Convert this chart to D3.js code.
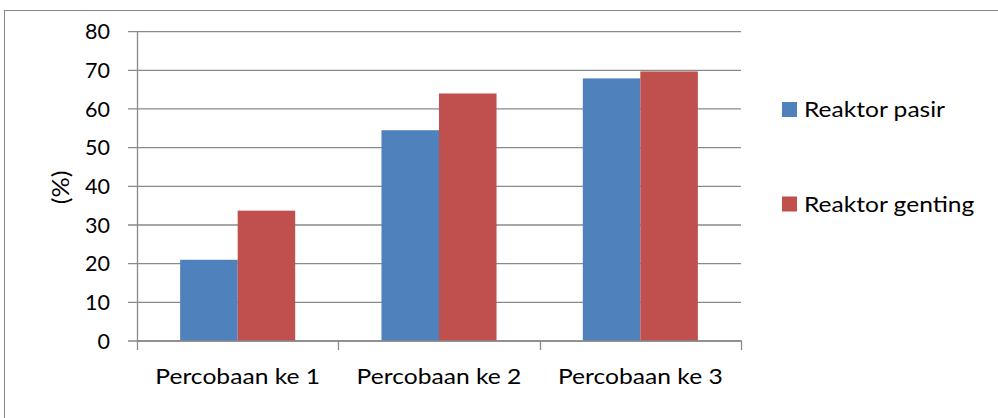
<!DOCTYPE html>
<html><head><meta charset="utf-8">
<script src="https://cdn.jsdelivr.net/npm/d3@7"></script>
<style>body{margin:0;background:#fff}svg{display:block}text{font-family:Lato,"Open Sans",sans-serif;fill:#000}</style>
</head><body>
<script>
const categories = ["Percobaan ke 1", "Percobaan ke 2", "Percobaan ke 3"];
const seriesNames = ["Reaktor pasir", "Reaktor genting"];
const pasir = [21, 54.5, 67.9];
const genting = [33.7, 64, 69.7];
const yTicks = [0, 10, 20, 30, 40, 50, 60, 70, 80];
const colors = ["#4F81BD", "#C0504D"];

(function () {
const W = 998, H = 418;
const svg = d3.select("body").append("svg").attr("width", W).attr("height", H);
svg.append("rect").attr("x", 4.5).attr("y", 10.5).attr("width", 1100).attr("height", 500)
  .attr("fill", "none").attr("stroke", "#868686").attr("stroke-width", 1);

const pL = 137, pR = 741, pT = 31.6, pB = 341;
const x = d3.scaleBand().domain(categories).range([pL, pR]).paddingInner(0).paddingOuter(0);
const x1 = d3.scaleBand().domain(seriesNames).range([0, x.bandwidth()]).paddingInner(0).paddingOuter(0.75);
const y = d3.scaleLinear().domain([0, 80]).range([pB, pT]);

svg.append("g").selectAll("line").data(yTicks).join("line")
  .attr("x1", pL - 9).attr("x2", pR).attr("y1", d => y(d)).attr("y2", d => y(d))
  .attr("stroke", "#8a8a8a").attr("stroke-width", 1.3);

const data = categories.map((c, i) => ({c, vals: [pasir[i], genting[i]]}));
const g = svg.append("g").selectAll("g").data(data).join("g").attr("transform", d => `translate(${x(d.c)},0)`);
g.selectAll("rect").data(d => d.vals.map((v, j) => ({v, j}))).join("rect")
  .attr("x", d => x1(seriesNames[d.j])).attr("width", x1.bandwidth())
  .attr("y", d => y(d.v)).attr("height", d => y(0) - y(d.v))
  .attr("fill", d => colors[d.j]);

svg.append("line").attr("x1", pL + 0.5).attr("x2", pL + 0.5).attr("y1", pT).attr("y2", pB + 1).attr("stroke", "#8a8a8a").attr("stroke-width", 1.3);
svg.append("line").attr("x1", pL).attr("x2", pR + 1).attr("y1", y(0)).attr("y2", y(0)).attr("stroke", "#8a8a8a").attr("stroke-width", 1.3);
const xticks = [0, 1, 2, 3].map(i => i < 3 ? x(categories[i]) : x(categories[2]) + x.bandwidth());
svg.append("g").selectAll("line").data(xticks).join("line")
  .attr("x1", d => Math.round(d) + 0.5).attr("x2", d => Math.round(d) + 0.5)
  .attr("y1", pB).attr("y2", pB + 9).attr("stroke", "#8a8a8a").attr("stroke-width", 1.3);

svg.append("g").selectAll("text").data(yTicks).join("text")
  .attr("x", pL - 27).attr("y", d => y(d)).attr("dy", "0.36em").attr("text-anchor", "end")
  .attr("font-size", 21.5).text(d => d);

svg.append("g").selectAll("text").data(categories).join("text")
  .attr("transform", d => `translate(${x(d) + x.bandwidth() / 2},384) scale(1.12,1)`).attr("text-anchor", "middle")
  .attr("font-size", 22).text(d => d);

svg.append("text").attr("transform", "translate(69,187.5) rotate(-90) scale(1.1,1)").attr("text-anchor", "middle")
  .attr("font-size", 23).text("(%)");

const leg = svg.append("g").selectAll("g").data(seriesNames).join("g")
  .attr("transform", (d, i) => `translate(782,${117 + i * 94.5})`);
leg.append("rect").attr("x", 0).attr("y", -15).attr("width", 15).attr("height", 15).attr("fill", (d, i) => colors[i]);
leg.append("text").attr("transform", "translate(22,0) scale(1.17,1)").attr("font-size", 21).text(d => d);
})();
</script>
</body></html>
